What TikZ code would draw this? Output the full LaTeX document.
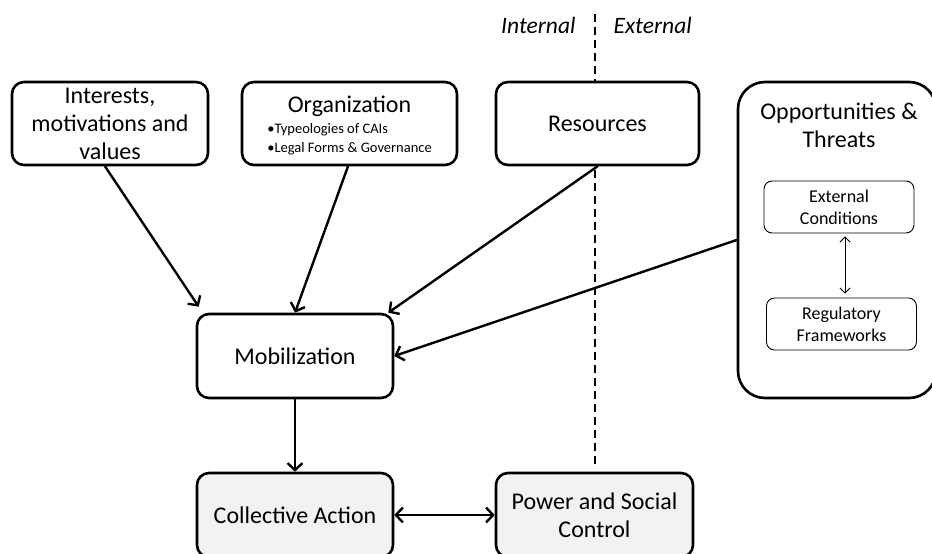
\documentclass[tikz,border=0pt]{standalone}
\usepackage{fontspec}
\setmainfont{Carlito}
\usetikzlibrary{arrows.meta}

\begin{document}
\begin{tikzpicture}[
    x=1pt, y=-1pt,
    >={Straight Barb[length=7pt,width=15pt]},
    line cap=round,
    line join=round,
    font=\fontsize{24}{28}\selectfont,
    box/.style={draw, line width=2.6pt, rounded corners=12pt, fill=white,
        align=center, inner sep=2pt, minimum height=83pt},
    shadedbox/.style={box, fill=gray!10},
    innerbox/.style={draw, line width=0.9pt, rounded corners=8pt, fill=white,
        align=center, font=\fontsize{18}{22}\selectfont,
        minimum width=150pt, minimum height=52pt},
    link/.style={->, line width=2.4pt}
]

\useasboundingbox (0,0) rectangle (932,554);

% Internal / external divide
\coordinate (Dtop) at (595,14);
\coordinate (Dbot) at (595,467);
\draw[line width=1.8pt, line cap=butt, dash pattern=on 8pt off 5pt] (Dtop) -- (Dbot);
\node[anchor=east, font=\fontsize{23.5}{28}\selectfont\itshape] (intl) at (579,25) {Internal};
\node[anchor=west, font=\fontsize{23.5}{28}\selectfont\itshape] (extl) at (610,25) {External};

% Top row
\node[box, minimum width=196pt] (int) at (110,123.5) {Interests,\\motivations and\\values};
\node[box, minimum width=215pt] (org) at (349.5,123.5)
    {\rule{0pt}{24pt}Organization\\[2pt]
     {\fontsize{14.5}{19}\selectfont
      \begin{tabular}{@{}l@{}}
      \textbullet Typeologies of CAIs\\
      \textbullet Legal Forms \& Governance
      \end{tabular}}};
\node[box, minimum width=203pt] (res) at (597.5,123.5) {Resources};

% Opportunities and threats
\node[draw, line width=2.6pt, rounded corners=27pt, fill=white,
    minimum width=198pt, minimum height=316pt] (opp) at (837,240) {};
\node[align=center] (oppT) at (839,125.5) {Opportunities \&\\Threats};
\node[innerbox] (ext) at (839,207) {External\\Conditions};
\node[innerbox] (reg) at (841.5,324) {Regulatory\\Frameworks};
\draw[{Straight Barb[length=5pt,width=10pt]}-{Straight Barb[length=5pt,width=10pt]}, line width=0.9pt,
    shorten <=3pt, shorten >=4pt] ([xshift=6pt]ext.south) -- ([xshift=3.5pt]reg.north);

% Middle and bottom
\node[box, minimum width=196pt, minimum height=84pt] (mob) at (295,356) {Mobilization};
\node[shadedbox, minimum width=196pt, minimum height=84pt] (col) at (295,515) {Collective Action};
\node[shadedbox, minimum width=197pt, minimum height=84pt] (pow) at (594.5,515) {Power and Social\\Control};

% Links
\draw[link] ([xshift=-5pt]int.south) -- ([xshift=3pt,yshift=6pt]mob.north west);
\draw[link] ([xshift=-1.5pt]org.south) -- (mob.north);
\draw[link] (res.south) -- ([xshift=-6pt]mob.north east);
\draw[link] (opp.west) -- (mob.east);
\draw[link] (mob.south) -- (col.north);
\draw[link, <->] (col.east) -- (pow.west);

\end{tikzpicture}
\end{document}
